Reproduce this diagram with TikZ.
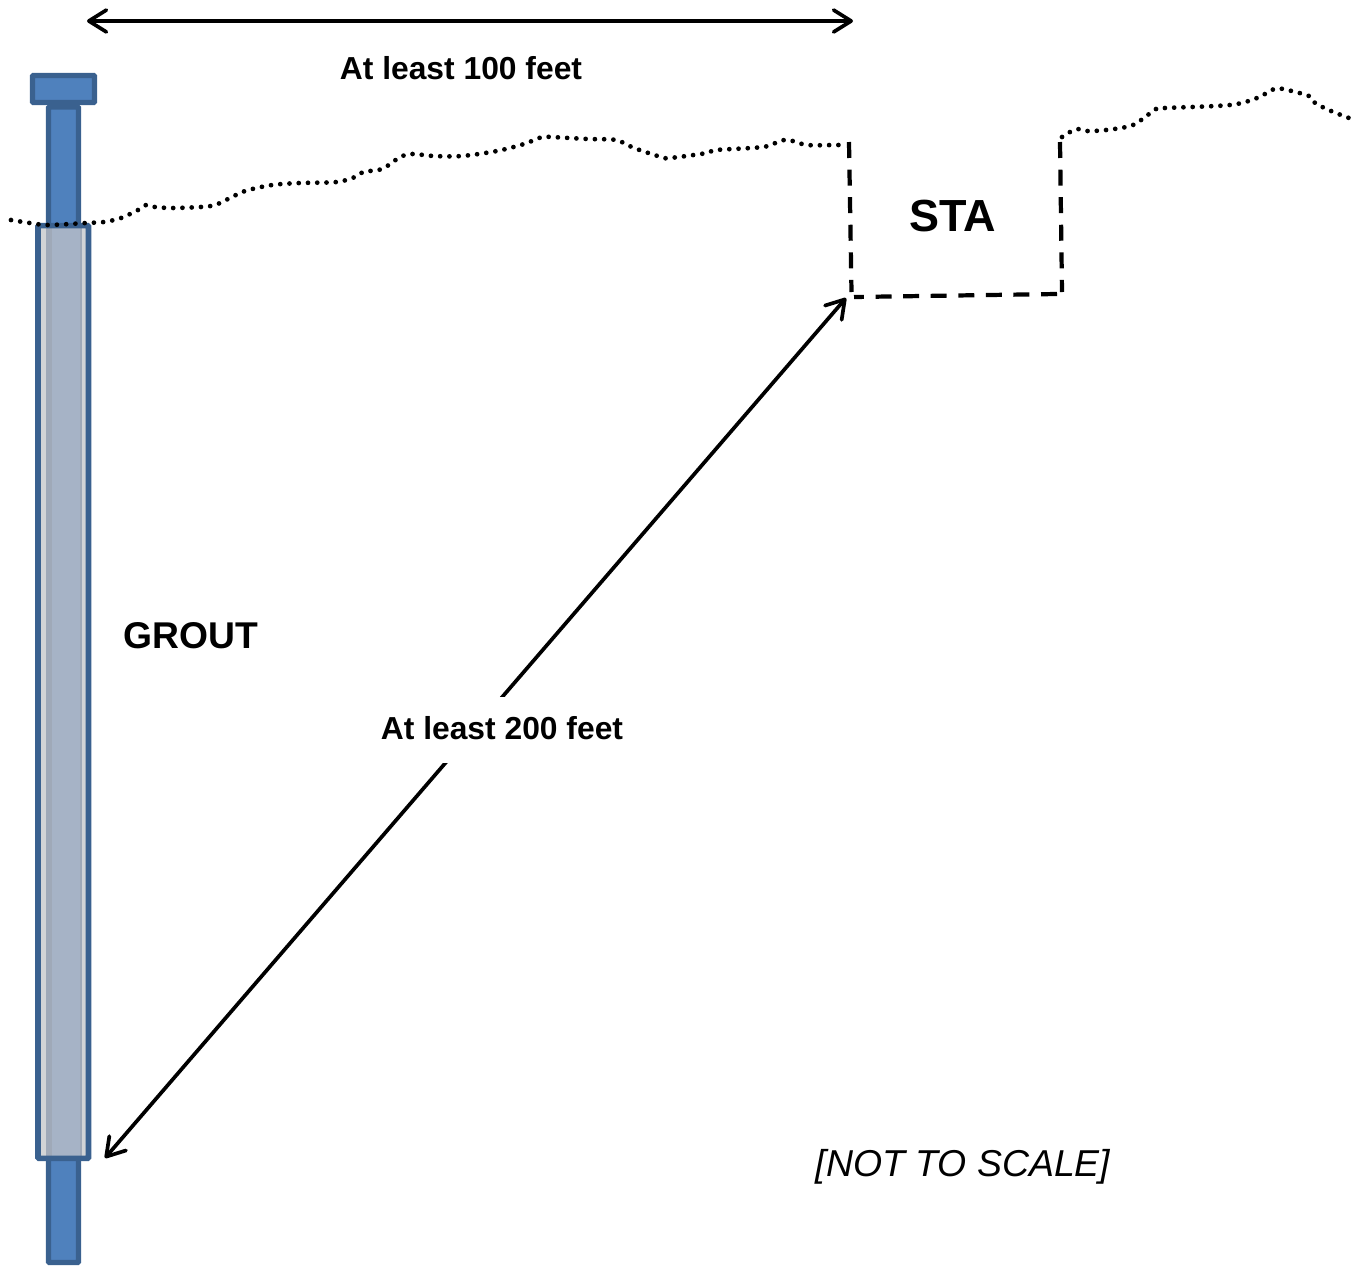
\documentclass[tikz,border=0pt]{standalone}
\usepackage{fontspec}
\setmainfont{Liberation Sans}
\usepackage{xcolor}
\usetikzlibrary{arrows.meta}

\definecolor{boltfill}{HTML}{4F81BD}
\definecolor{boltedge}{HTML}{3A618F}
\definecolor{groutlight}{HTML}{D2D4D6}
\definecolor{groutmid}{HTML}{9FA9B8}
\definecolor{groutfill}{HTML}{A6B3C6}

\begin{document}
\begin{tikzpicture}[
    x=0.02cm,
    y=-0.02cm,
    >={Straight Barb[length=10pt,width=12.5pt,round]},
    line width=2.1pt
]

\tikzstyle{bolt}=[
    rectangle,
    draw=boltedge,
    fill=boltfill,
    line width=3.1pt,
    rounded corners=0.6pt,
    inner sep=0pt,
    outer sep=0pt
]
\tikzstyle{groutpart}=[
    rectangle,
    minimum height=18.66cm,
    inner sep=0pt,
    outer sep=0pt
]
\tikzstyle{dist}=[
    font=\bfseries\fontsize{18.1}{22}\selectfont
]
\tikzstyle{ground}=[
    line width=2.7pt,
    line cap=round,
    dash pattern=on 0pt off 5.27pt
]
\tikzstyle{pit}=[
    line width=2.4pt,
    dash pattern=on 9.1pt off 6.6pt
]

\useasboundingbox (0,0) rectangle (1362,1265);

\node[bolt, minimum width=0.6cm, minimum height=2.4cm] (shafttop) at (63.5,167) {};
\node[bolt, minimum width=0.6cm, minimum height=2.1cm] (shaftbottom) at (63.5,1210) {};
\node[bolt, minimum width=1.24cm, minimum height=0.54cm] (cap) at (63.5,89) {};

\node[groutpart, fill=groutlight, minimum width=1.01cm] (groutback) at (63.3,692) {};
\node[groutpart, fill=groutmid, minimum width=0.72cm] (groutin) at (64,692) {};
\node[groutpart, fill=groutfill, minimum width=0.56cm] (groutcore) at (66,692) {};
\node[groutpart, draw=boltedge, line width=3.2pt, rounded corners=0.6pt, minimum width=1.01cm] (grout) at (63.3,692) {};

\draw[ground] plot[smooth] coordinates {(11,220) (30,223) (48,225) (86,223) (104,222) (121,218)
    (138,210) (146,205) (155,207) (174,208) (211,206) (228,199) (245,191) (272,185) (300,183)
    (337,182) (355,177) (363,172) (382,169) (397,159) (405,155) (415,154) (433,156) (462,156)
    (497,151) (524,144) (542,137) (551,137) (588,139) (616,140) (634,148) (661,157) (670,158)
    (707,153) (716,150) (763,147) (780,141) (789,140) (807,145) (835,145) (846,145)};
\draw[ground] plot[smooth] coordinates {(1062,137) (1070,132) (1078,129) (1087,131) (1106,130)
    (1133,125) (1156,109) (1165,108) (1230,105) (1257,98) (1274,89) (1283,89) (1309,96)
    (1315,103) (1331,111) (1349,118)};

\coordinate (pittl) at (849,142);
\coordinate (pitbl) at (851.5,292);
\coordinate (pittr) at (1060,142);
\coordinate (pitbr) at (1062,292);
\coordinate (pitr) at (1057,294);
\coordinate (pitl) at (854,297);
\draw[pit] (pittl) -- (pitbl) (pittr) -- (pitbr) (pitr) -- (pitl);

\coordinate (topl) at (87,21);
\coordinate (topr) at (853,21);
\coordinate (diagt) at (846,298);
\coordinate (diagb) at (105,1158);
\draw[<->] (topl) -- (topr);
\draw[<->] (diagb) -- (diagt);

\node[dist] (dist100) at (461,68) {At least 100 feet};
\node[dist, fill=white, inner xsep=0pt, inner ysep=0pt, text height=0.84cm, text depth=0.48cm] (dist200) at (502,730) {At least 200 feet};
\node[font=\bfseries\fontsize{21.2}{25}\selectfont] (groutlabel) at (191,636) {GROUT};
\node[font=\bfseries\fontsize{25.6}{30}\selectfont] (stalabel) at (953,216) {STA};
\node[font=\itshape\fontsize{21.3}{25}\selectfont] (scalelabel) at (963,1166.5) {[NOT TO SCALE]};

\end{tikzpicture}
\end{document}
